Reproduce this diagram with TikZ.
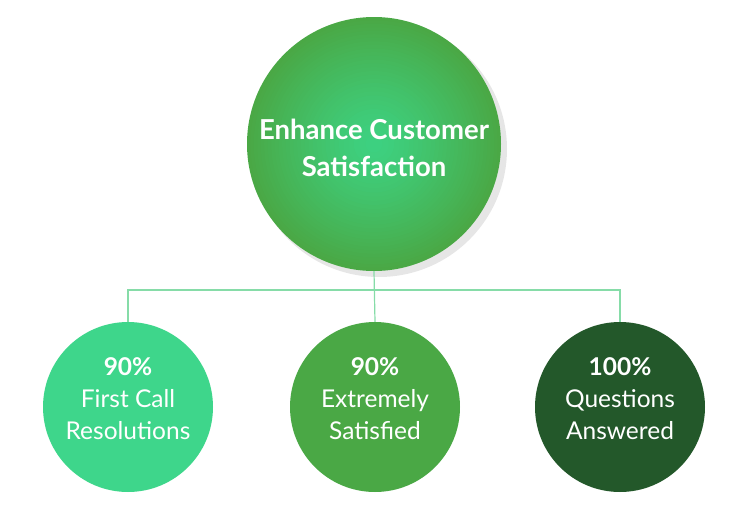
\documentclass[tikz,border=0pt]{standalone}
\usepackage{fontspec}
\setmainfont{Lato}
\usepackage{xcolor}
\usepackage{tikz}
\usetikzlibrary{positioning}

\definecolor{mint}{HTML}{3ED68B}
\definecolor{leaf}{HTML}{4AA845}
\definecolor{forest}{HTML}{23582A}
\definecolor{hubglow}{HTML}{3DD282}
\definecolor{wire}{HTML}{86DCA8}
\definecolor{halogray}{HTML}{E6E6E6}

\begin{document}
\begin{tikzpicture}[
        x=1pt, y=-1pt, % pixel grid, y pointing down
        every node/.style={text=white, align=center},
        hub/.style={circle, minimum size=254pt, inner sep=0pt, fill=leaf},
        hubtext/.style={font=\bfseries\fontsize{27.5}{37}\selectfont},
        goal/.style={circle, minimum size=170pt, inner sep=0pt},
        goaltext/.style={font=\fontsize{24.5}{32}\selectfont},
        wirestyle/.style={draw=wire, line width=1.2pt}
    ]
        % Canvas
        \useasboundingbox (0,0) rectangle (753,514);

        % Shadow behind the main circle
        \fill[halogray] (379,149) circle (128);

        % Main goal, glow built from rings
        \node[hub] (enhance) at (374,144) {};
        \foreach \k in {1,...,30} {
            \pgfmathtruncatemacro{\mixpct}{100*\k/30}
            \fill[hubglow!\mixpct!leaf] (enhance.center) circle ({127*(1-\k/30)^0.8});
        }
        \node[hubtext] (enhancelbl) at ([yshift=-4pt]enhance.center) {Enhance Customer\\Satisfaction};

        % Three results
        \node[goal, fill=mint] (firstcall) at (128,407) {};
        \node[goal, fill=leaf] (satisfied) at (375,407) {};
        \node[goal, fill=forest] (answered) at (620,407) {};

        \node[goaltext] (firstcalllbl) at ([yshift=8pt]firstcall.center) {\textbf{90\%}\\First Call\\Resolutions};
        \node[goaltext] (satisfiedlbl) at ([yshift=8pt]satisfied.center) {\textbf{90\%}\\Extremely\\Satisfied};
        \node[goaltext] (answeredlbl) at ([yshift=8pt]answered.center) {\textbf{100\%}\\Questions\\Answered};

        % Connectors
        \coordinate (bus) at (375,290);
        \draw[wirestyle] (enhance.south) -- (satisfied.north);
        \draw[wirestyle] (firstcall.north) |- (bus) -| (answered.north);

    \end{tikzpicture}
\end{document}
